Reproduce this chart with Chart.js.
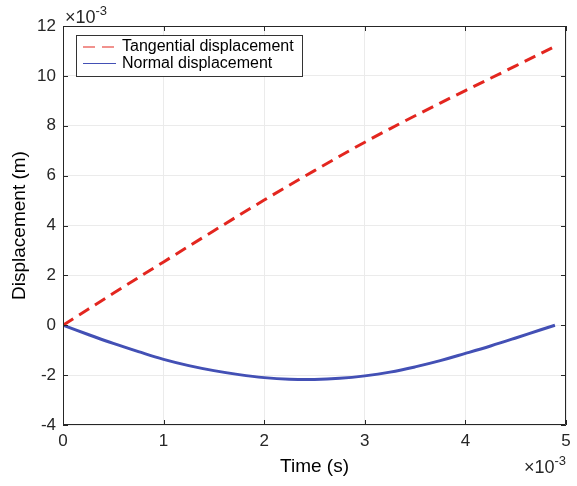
<!DOCTYPE html>
<html>
<head>
<meta charset="utf-8">
<script src="https://cdn.jsdelivr.net/npm/chart.js@4/dist/chart.umd.min.js"></script>
<style>
  body { margin: 0; background: #fff; }
  canvas { display: block; }
</style>
</head>
<body>
<canvas id="chart" width="577" height="486"></canvas>
<script>
// values (time and displacement both in units of 1e-3)
const tangentialTime = [0, 0.5, 1, 1.5, 2, 2.5, 3, 3.5, 4, 4.5, 4.9];
const tangentialDisp = [0, 1.28, 2.54, 3.79, 5.02, 6.2, 7.34, 8.4, 9.41, 10.4, 11.2];
const normalTime = [0, 0.25, 0.5, 0.75, 1, 1.25, 1.5, 1.75, 2, 2.25, 2.5, 2.75,
                    3, 3.25, 3.5, 3.75, 4, 4.25, 4.5, 4.75, 4.89];
const normalDisp = [0, -0.37, -0.73, -1.06, -1.37, -1.62, -1.82, -1.98, -2.1, -2.165, -2.175, -2.13,
                    -2.03, -1.88, -1.67, -1.42, -1.13, -0.83, -0.51, -0.18, 0];
const xTicks = [0, 1, 2, 3, 4, 5];
const yTicks = [-4, -2, 0, 2, 4, 6, 8, 10, 12];
const seriesLabels = ['Tangential displacement', 'Normal displacement'];

const FONT = '"Liberation Sans", Arial, Helvetica, sans-serif';
const AXIS = '#262626';

function toPoints(xs, ys) {
    return xs.map((x, i) => ({ x: x, y: ys[i] }));
}

// box, inward ticks, legend and the exponent labels, MATLAB style
const matlabAxes = {
    id: 'matlabAxes',
    afterDraw(chart) {
        const ctx = chart.ctx;
        const a = chart.chartArea;
        const xs = chart.scales.x, ys = chart.scales.y;
        ctx.save();
        ctx.strokeStyle = AXIS;
        ctx.lineWidth = 1;
        ctx.beginPath();
        ctx.rect(a.left + 0.5, a.top + 0.5, a.right - a.left - 1, a.bottom - a.top - 1);
        xTicks.forEach(v => {
            const px = Math.round(xs.getPixelForValue(v)) + 0.5;
            ctx.moveTo(px, a.bottom); ctx.lineTo(px, a.bottom - 5);
            ctx.moveTo(px, a.top); ctx.lineTo(px, a.top + 5);
        });
        yTicks.forEach(v => {
            const py = Math.round(ys.getPixelForValue(v)) + 0.5;
            ctx.moveTo(a.left, py); ctx.lineTo(a.left + 5, py);
            ctx.moveTo(a.right, py); ctx.lineTo(a.right - 5, py);
        });
        ctx.stroke();

        // legend
        const lx = 76, ly = 35, lw = 226, lh = 41;
        ctx.fillStyle = '#fff';
        ctx.fillRect(lx, ly, lw, lh);
        ctx.strokeStyle = '#333';
        ctx.strokeRect(lx + 0.5, ly + 0.5, lw, lh);
        ctx.font = '16px ' + FONT;
        ctx.textBaseline = 'middle';
        chart.data.datasets.forEach((ds, i) => {
            const y = ly + 12 + i * 16.5;
            ctx.strokeStyle = ds.borderColor;
            ctx.lineWidth = 1.2;
            ctx.setLineDash(ds.borderDash || []);
            ctx.beginPath();
            ctx.moveTo(lx + 7, y); ctx.lineTo(lx + 40, y);
            ctx.stroke();
            ctx.setLineDash([]);
            ctx.fillStyle = '#000';
            ctx.fillText(ds.label, lx + 46, y);
        });

        // exponent labels
        function expo(x, y, alignRight) {
            ctx.fillStyle = AXIS;
            ctx.textBaseline = 'alphabetic';
            ctx.textAlign = 'left';
            ctx.font = '18px ' + FONT;
            const w = ctx.measureText('\u00d710').width;
            ctx.font = '13px ' + FONT;
            const w2 = ctx.measureText('-3').width;
            const x0 = alignRight ? x - w - w2 : x;
            ctx.font = '18px ' + FONT;
            ctx.fillText('\u00d710', x0, y);
            ctx.font = '13px ' + FONT;
            ctx.fillText('-3', x0 + w, y - 8);
        }
        expo(a.left + 2, a.top - 3, false);
        expo(a.right, 473, true);
        ctx.restore();
    }
};

new Chart(document.getElementById('chart'), {
    type: 'scatter',
    data: {
        datasets: [{
            label: seriesLabels[0],
            data: toPoints(tangentialTime, tangentialDisp),
            showLine: true,
            borderColor: '#e3261f',
            borderWidth: 3,
            borderDash: [12, 7],
            pointRadius: 0,
            tension: 0.4
        }, {
            label: seriesLabels[1],
            data: toPoints(normalTime, normalDisp),
            showLine: true,
            borderColor: '#4350b5',
            borderWidth: 3,
            pointRadius: 0,
            tension: 0.4
        }]
    },
    options: {
        responsive: false,
        devicePixelRatio: 1,
        animation: false,
        layout: { padding: { top: 26, right: 11, left: 0, bottom: 0 } },
        plugins: { legend: { display: false }, tooltip: { enabled: false } },
        scales: {
            x: {
                type: 'linear', min: 0, max: 5,
                afterFit: s => { s.height = 61; },
                afterBuildTicks: s => { s.ticks = xTicks.map(v => ({ value: v })); },
                ticks: { color: AXIS, font: { family: FONT, size: 17 }, padding: 6 },
                grid: { color: '#ebebeb', drawTicks: false },
                border: { display: false },
                title: { display: true, text: 'Time (s)', color: '#000',
                         font: { family: FONT, size: 19 }, padding: { top: 0, bottom: 8 } }
            },
            y: {
                type: 'linear', min: -4, max: 12,
                afterFit: s => { s.width = 63; },
                afterBuildTicks: s => { s.ticks = yTicks.map(v => ({ value: v })); },
                ticks: { color: AXIS, font: { family: FONT, size: 17 }, padding: 7 },
                grid: { color: '#ebebeb', drawTicks: false },
                border: { display: false },
                title: { display: true, text: 'Displacement (m)', color: '#000',
                         font: { family: FONT, size: 19 }, padding: { top: 8, bottom: 0 } }
            }
        }
    },
    plugins: [matlabAxes]
});
</script>
</body>
</html>
